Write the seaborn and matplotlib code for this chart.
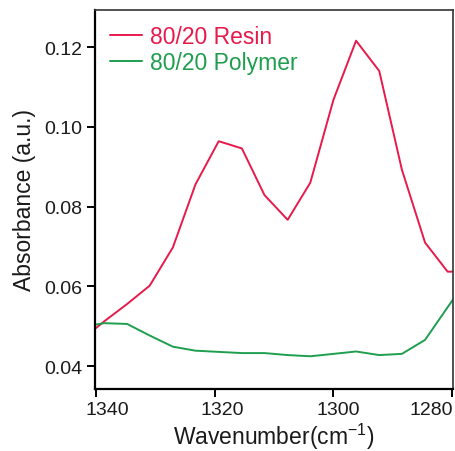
import numpy as np
import pandas as pd
import matplotlib
matplotlib.use("Agg")
import matplotlib.pyplot as plt
import matplotlib.transforms as mtransforms
import seaborn as sns

# Wavenumber grid (cm^-1) and absorbance readings for the two samples
wavenumber = [1342.4, 1338.6, 1334.7, 1330.9, 1327.0, 1323.2, 1319.3, 1315.4,
              1311.6, 1307.7, 1303.9, 1300.0, 1296.2, 1292.3, 1288.5, 1284.6,
              1280.8, 1276.9]
resin = [0.0466, 0.0512, 0.0556, 0.0602, 0.0698, 0.0856, 0.0964, 0.0946,
         0.0829, 0.0767, 0.0860, 0.1068, 0.1216, 0.1140, 0.0893, 0.0710,
         0.0637, 0.0638]
polymer = [0.0498, 0.0508, 0.0506, 0.0477, 0.0449, 0.0439, 0.0436, 0.0433,
           0.0433, 0.0428, 0.0425, 0.0431, 0.0437, 0.0428, 0.0431, 0.0466,
           0.0548, 0.0631]
series_names = ["80/20 Resin", "80/20 Polymer"]
series_colors = ["#E8194B", "#1E9E4E"]
x_ticks = [1340, 1320, 1300, 1280]
y_ticks = [0.04, 0.06, 0.08, 0.10, 0.12]

df = pd.concat([
    pd.DataFrame({"wn": wavenumber, "abs": resin, "sample": series_names[0]}),
    pd.DataFrame({"wn": wavenumber, "abs": polymer, "sample": series_names[1]}),
])

sns.set_style("ticks")
plt.rcParams["font.family"] = ["Liberation Sans", "DejaVu Sans"]
plt.rcParams["mathtext.fontset"] = "custom"
plt.rcParams["mathtext.rm"] = "Liberation Sans"
plt.rcParams["mathtext.it"] = "Liberation Sans:italic"

fig = plt.figure(figsize=(4.55, 4.52), dpi=100)
ax = fig.add_axes([0.2088, 0.1372, 0.7868, 0.8385])

sns.lineplot(data=df, x="wn", y="abs", hue="sample", hue_order=series_names,
             palette=series_colors, sort=False, estimator=None, linewidth=1.4,
             ax=ax, legend=False)

ax.set_xlim(1340.1, 1279.9)
ax.set_ylim(0.0343, 0.1293)
ax.set_xticks(x_ticks)
ax.set_xticklabels([str(t) for t in x_ticks])
ax.set_yticks(y_ticks)
ax.set_yticklabels([f"{t:.2f}" for t in y_ticks])
ax.tick_params(axis="both", labelsize=14, length=6, width=1.4, color="black",
               labelcolor="#1a1a1a", direction="out", pad=3)

# keep the end labels inside the frame: nudge x tick labels horizontally (pixels)
x_label_shift = [12, 8, 5, -21]
for lbl, dx in zip(ax.get_xticklabels(), x_label_shift):
    lbl.set_transform(lbl.get_transform() +
                      mtransforms.ScaledTranslation(dx / 100, 0, fig.dpi_scale_trans))

for side in ["left", "bottom"]:
    ax.spines[side].set_linewidth(1.6)
    ax.spines[side].set_color("black")
for side in ["top", "right"]:
    ax.spines[side].set_visible(True)
    ax.spines[side].set_linewidth(1.2)
    ax.spines[side].set_color("#333333")

ax.set_xlabel("Wavenumber(cm$^{-1}$)", fontsize=16.5, color="#1a1a1a", labelpad=2)
ax.set_ylabel("Absorbance (a.u.)", fontsize=16.5, color="#1a1a1a", labelpad=6)

handles = [plt.Line2D([], [], color=c, linewidth=1.4) for c in series_colors]
leg = ax.legend(handles, series_names, loc="upper left", frameon=False,
                fontsize=16.5, handlelength=1.4, handletextpad=0.35,
                labelspacing=0.12, borderaxespad=0.25,
                bbox_to_anchor=(0.0, 1.0))
for text, c in zip(leg.get_texts(), series_colors):
    text.set_color(c)

fig.savefig("out.png", dpi=100)
